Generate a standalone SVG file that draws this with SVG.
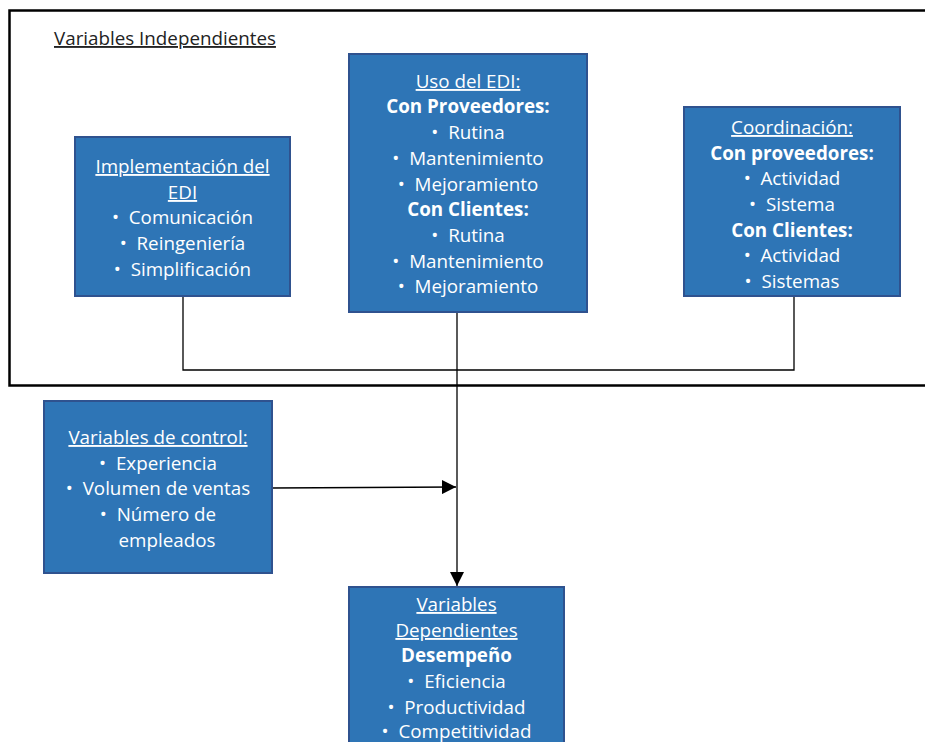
<svg xmlns="http://www.w3.org/2000/svg" width="925" height="742" viewBox="0 0 925 742">
<style>
.box{fill:#2E75B6;stroke:#2F528F;stroke-width:2}
.t{font-family:"Open Sans","Liberation Sans",sans-serif;font-size:18.8px;fill:#fff;text-anchor:middle}
.u{text-decoration:underline}
.b{font-weight:bold}
.line{fill:none;stroke:#000;stroke-width:1.3}
</style>
<defs>
<marker id="arr" viewBox="0 0 14 14" refX="14" refY="7" markerWidth="14" markerHeight="14" markerUnits="userSpaceOnUse" orient="auto">
<path d="M0,0 L14,7 L0,14 Z" fill="#000"/>
</marker>
</defs>
<rect x="0" y="0" width="925" height="742" fill="#fff"/>
<g id="frame">
<rect x="9.5" y="10.5" width="930" height="375" fill="none" stroke="#000" stroke-width="2.5"/>
<text x="54" y="45" font-family="'Open Sans','Liberation Sans',sans-serif" font-size="18.8" fill="#222" text-decoration="underline">Variables Independientes</text>
</g>
<g id="connectors">
<polyline class="line" points="183,296 183,370 794,370 794,296"/>
<line class="line" x1="457" y1="312" x2="457" y2="586" marker-end="url(#arr)"/>
<line class="line" x1="272" y1="488" x2="456" y2="487" marker-end="url(#arr)"/>
</g>
<g id="implementacion">
<rect class="box" x="75" y="137" width="215" height="159"/>
<text class="t" xml:space="preserve"><tspan class="u" x="182.5" y="173">Implementación del</tspan><tspan class="u" x="182.5" y="199">EDI</tspan><tspan x="182.5" y="224">•  Comunicación</tspan><tspan x="182.5" y="250">•  Reingeniería</tspan><tspan x="182.5" y="276">•  Simplificación</tspan></text>
</g>
<g id="uso">
<rect class="box" x="349" y="54" width="238" height="258"/>
<text class="t" xml:space="preserve"><tspan class="u" x="468" y="88">Uso del EDI:</tspan><tspan class="b" x="468" y="113">Con Proveedores:</tspan><tspan x="468" y="139">•  Rutina</tspan><tspan x="468" y="165">•  Mantenimiento</tspan><tspan x="468" y="191">•  Mejoramiento</tspan><tspan class="b" x="468" y="216">Con Clientes:</tspan><tspan x="468" y="242">•  Rutina</tspan><tspan x="468" y="268">•  Mantenimiento</tspan><tspan x="468" y="293">•  Mejoramiento</tspan></text>
</g>
<g id="coordinacion">
<rect class="box" x="684" y="107" width="216" height="189"/>
<text class="t" xml:space="preserve"><tspan class="u" x="792" y="134">Coordinación:</tspan><tspan class="b" x="792" y="160">Con proveedores:</tspan><tspan x="792" y="185">•  Actividad</tspan><tspan x="792" y="211">•  Sistema</tspan><tspan class="b" x="792" y="237">Con Clientes:</tspan><tspan x="792" y="262">•  Actividad</tspan><tspan x="792" y="288">•  Sistemas</tspan></text>
</g>
<g id="control">
<rect class="box" x="44" y="401" width="228" height="172"/>
<text class="t" xml:space="preserve"><tspan class="u" x="158" y="444">Variables de control:</tspan><tspan x="158" y="470">•  Experiencia</tspan><tspan x="158" y="495">•  Volumen de ventas</tspan><tspan x="158" y="521">•  Número de</tspan><tspan x="167" y="547">empleados</tspan></text>
</g>
<g id="dependientes">
<rect class="box" x="349" y="587" width="215" height="170"/>
<text class="t" xml:space="preserve"><tspan class="u" x="456.5" y="611">Variables</tspan><tspan class="u" x="456.5" y="637">Dependientes</tspan><tspan class="b" x="456.5" y="662">Desempeño</tspan><tspan x="456.5" y="688">•  Eficiencia</tspan><tspan x="456.5" y="714">•  Productividad</tspan><tspan x="456.5" y="738">•  Competitividad</tspan></text>
</g>
</svg>
